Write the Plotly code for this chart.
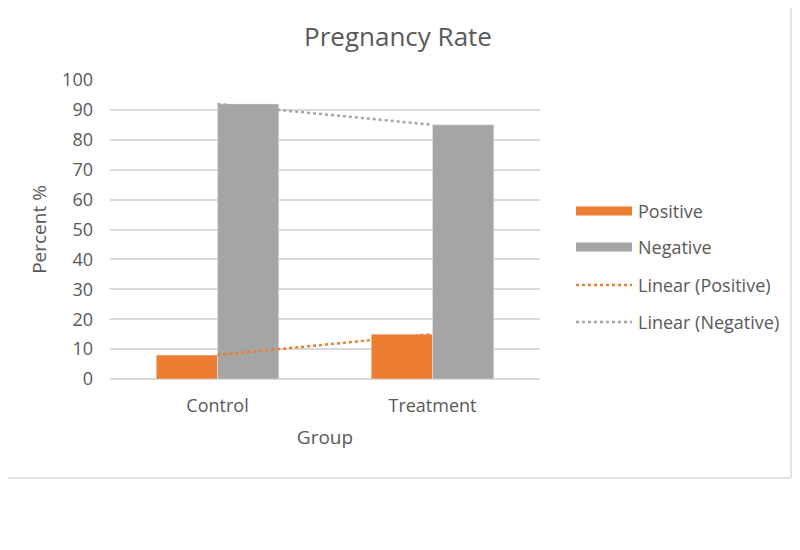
import numpy as np
import plotly.graph_objects as go

categories = ["Control", "Treatment"]
positive = [8, 15]
negative = [92, 85]
y_ticks = [0, 10, 20, 30, 40, 50, 60, 70, 80, 90, 100]

ORANGE = "#ED7D31"
GRAY = "#A5A5A5"
TEXT = "#595959"
GRID = "#D9D9D9"
FONT = "Open Sans"

xi = np.arange(len(categories))
pos_fit = np.polyval(np.polyfit(xi, positive, 1), xi)
neg_fit = np.polyval(np.polyfit(xi, negative, 1), xi)

fig = go.Figure()
fig.add_trace(go.Bar(x=categories, y=positive, name="Positive", marker_color=ORANGE, showlegend=False))
fig.add_trace(go.Bar(x=categories, y=negative, name="Negative", marker_color=GRAY, showlegend=False))
fig.add_trace(go.Scatter(x=categories, y=pos_fit, mode="lines", name="Linear (Positive)",
                         line=dict(color=ORANGE, width=2.5, dash="dot"), showlegend=False))
fig.add_trace(go.Scatter(x=categories, y=neg_fit, mode="lines", name="Linear (Negative)",
                         line=dict(color=GRAY, width=2.5, dash="dot"), showlegend=False))

# screen pixel -> paper coords (plot area spans x 110..540, y 80..379 on screen)
def px_x(p):
    return (p - 110) / 430.0

def px_y(p):
    return (379 - p) / 299.0

legend_items = [("Positive", ORANGE, "bar", 211), ("Negative", GRAY, "bar", 247),
                ("Linear (Positive)", ORANGE, "line", 285), ("Linear (Negative)", GRAY, "line", 322)]
shapes = []
annotations = []
for label, color, kind, py in legend_items:
    if kind == "bar":
        shapes.append(dict(type="rect", xref="paper", yref="paper", x0=px_x(576), x1=px_x(632),
                           y0=px_y(py + 4.5), y1=px_y(py - 4.5), fillcolor=color, line=dict(width=0)))
    else:
        shapes.append(dict(type="line", xref="paper", yref="paper", x0=px_x(576), x1=px_x(632),
                           y0=px_y(py), y1=px_y(py), line=dict(color=color, width=2.5, dash="dot")))
    annotations.append(dict(text=label, xref="paper", yref="paper", x=px_x(636), y=px_y(py),
                            xanchor="left", yanchor="middle", showarrow=False,
                            font=dict(family=FONT, size=18, color=TEXT)))

# chart border (right and bottom)
shapes.append(dict(type="line", xref="paper", yref="paper", x0=px_x(-10), x1=px_x(791),
                   y0=px_y(478), y1=px_y(478), line=dict(color=GRID, width=1.5)))
shapes.append(dict(type="line", xref="paper", yref="paper", x0=px_x(791), x1=px_x(791),
                   y0=px_y(-10), y1=px_y(478), line=dict(color=GRID, width=1.5)))

fig.update_layout(
    width=792, height=542,
    margin=dict(l=102, r=260, t=72, b=171),
    paper_bgcolor="white", plot_bgcolor="white",
    barmode="group", bargap=0.43, bargroupgap=0,
    title=dict(text="Pregnancy Rate", x=(398 - 8) / 792, xanchor="center", y=1 - 29 / 542, yanchor="middle",
               font=dict(family=FONT, size=26, color=TEXT)),
    shapes=shapes, annotations=annotations,
    font=dict(family=FONT, color=TEXT),
)
fig.update_xaxes(showgrid=False, showline=False, ticks="", tickfont=dict(family=FONT, size=18, color=TEXT),
                 ticklabelstandoff=14,
                 title=dict(text="Group", font=dict(family=FONT, size=19, color=TEXT), standoff=14))
fig.update_yaxes(range=[0, 100], tickvals=y_ticks, showgrid=True, gridcolor=GRID, gridwidth=1.5,
                 zeroline=True, zerolinecolor=GRID, zerolinewidth=1.5, showline=False, ticks="",
                 tickfont=dict(family=FONT, size=18, color=TEXT), ticklabelstandoff=16,
                 title=dict(text="Percent %", font=dict(family=FONT, size=19, color=TEXT), standoff=10))

fig.write_html("out.html")
